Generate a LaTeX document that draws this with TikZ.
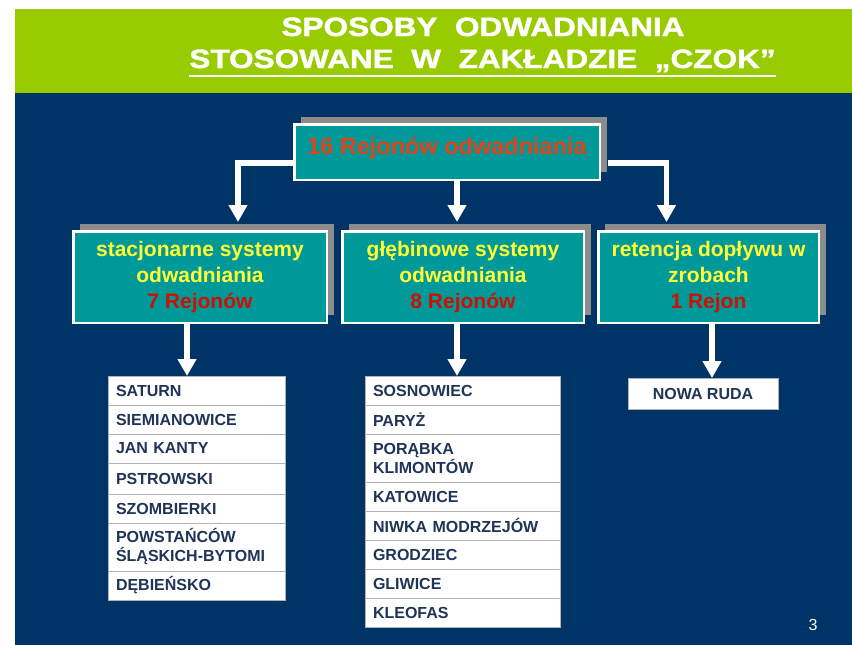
\documentclass[tikz,border=0pt]{standalone}
\usepackage{fontspec}
\setmainfont{Liberation Sans}
\newfontfamily\titlefont{Liberation Sans}[FakeStretch=1.19,FakeBold=1.5]
\usetikzlibrary{positioning,arrows.meta,shadows}

\definecolor{slideblue}{HTML}{003366}
\definecolor{titlegreen}{HTML}{99CC00}
\definecolor{boxteal}{HTML}{009999}
\definecolor{shadowgray}{HTML}{8C8C8C}
\definecolor{labelyellow}{HTML}{FFFF33}
\definecolor{countred}{HTML}{CC1100}
\definecolor{topred}{HTML}{E04418}
\definecolor{listnavy}{HTML}{1F3457}

\tikzset{
  titletext/.style={text=white, anchor=base, inner sep=0pt, font=\titlefont\fontsize{26.5}{30}\selectfont\bfseries},
  groupbox/.style={draw=white, line width=2.5pt, fill=boxteal, anchor=north west, inner sep=0pt,
    general shadow={fill=shadowgray, shadow xshift=7pt, shadow yshift=7.5pt},
    align=center, text=labelyellow, font=\fontsize{21}{26}\selectfont\bfseries},
  listrow/.style={draw=gray!60, line width=0.8pt, fill=white, text=listnavy, outer sep=0pt,
    inner xsep=8pt, inner ysep=0pt, align=left, font=\fontsize{16}{19}\selectfont\bfseries},
  conn/.style={draw=white, line width=5.5pt, -{Triangle[width=18pt,length=17pt]}},
}

\begin{document}
\begin{tikzpicture}[x=1pt,y=-1pt]
    \useasboundingbox (0,0) rectangle (852,645);

    % Slide background
    \fill[white] (0,0) rectangle (852,645);
    \fill[slideblue] (15,93) rectangle (852,645);
    \fill[titlegreen] (15,9) rectangle (852,93);

    % Title
    \node[titletext] (title1) at (483,36) {SPOSOBY\ \ ODWADNIANIA};
    \node[titletext] (title2) at (482.5,68) {STOSOWANE\ \ W\ \ ZAKŁADZIE\ \ „CZOK”};
    \draw[white, line width=2.5pt] ([yshift=-8pt]title2.base west) -- ([yshift=-8pt]title2.base east);

    % Top box
    \node[groupbox, minimum width=305.5pt, text height=29.75pt, text depth=25.75pt,
          text=topred, font=\fontsize{23.5}{28}\selectfont\bfseries]
        (top) at (293,123) {16 Rejonów odwadniania};

    % Second level
    \node[groupbox, minimum width=253.5pt, minimum height=91.5pt] (sys1) at (72,230)
        {stacjonarne systemy\\odwadniania\\{\color{countred}7 Rejonów}};
    \node[groupbox, minimum width=241.5pt, minimum height=91.5pt] (sys2) at (341,230)
        {głębinowe systemy\\odwadniania\\{\color{countred}8 Rejonów}};
    \node[groupbox, minimum width=220.5pt, minimum height=91.5pt] (sys3) at (597,230)
        {retencja dopływu w\\zrobach\\{\color{countred}1 Rejon}};

    % Arrows from the top box
    \coordinate (in1) at ([xshift=38pt,yshift=8pt]sys1.north);
    \coordinate (in2) at ([xshift=-6pt,yshift=8pt]sys2.north);
    \coordinate (in3) at ([xshift=-42pt,yshift=8pt]sys3.north);
    \draw[conn] ([yshift=-11pt]top.west) -| (in1);
    \draw[conn] (top.south -| in2) -- (in2);
    \draw[conn] ([xshift=7pt,yshift=-11pt]top.east) -| (in3);

    % List of stationary systems
    \node[listrow, anchor=north west, text width=161pt, minimum height=29pt] (l1a) at (108,376) {SATURN};
    \node[listrow, text width=161pt, minimum height=29pt, below=0pt of l1a] (l1b) {SIEMIANOWICE};
    \node[listrow, text width=161pt, minimum height=29pt, below=0pt of l1b] (l1c) {JAN KANTY};
    \node[listrow, text width=161pt, minimum height=31pt, below=0pt of l1c] (l1d) {PSTROWSKI};
    \node[listrow, text width=161pt, minimum height=29pt, below=0pt of l1d] (l1e) {SZOMBIERKI};
    \node[listrow, text width=161pt, minimum height=48pt, below=0pt of l1e] (l1f) {POWSTAŃCÓW\\\mbox{ŚLĄSKICH-BYTOMI}};
    \node[listrow, text width=161pt, minimum height=29pt, below=0pt of l1f] (l1g) {DĘBIEŃSKO};

    % List of deep systems
    \node[listrow, anchor=north west, text width=179pt, minimum height=29pt] (l2a) at (365,376) {SOSNOWIEC};
    \node[listrow, text width=179pt, minimum height=29pt, below=0pt of l2a] (l2b) {PARYŻ};
    \node[listrow, text width=179pt, minimum height=48pt, below=0pt of l2b] (l2c) {PORĄBKA\\KLIMONTÓW};
    \node[listrow, text width=179pt, minimum height=29pt, below=0pt of l2c] (l2d) {KATOWICE};
    \node[listrow, text width=179pt, minimum height=29pt, below=0pt of l2d] (l2e) {NIWKA MODRZEJÓW};
    \node[listrow, text width=179pt, minimum height=29pt, below=0pt of l2e] (l2f) {GRODZIEC};
    \node[listrow, text width=179pt, minimum height=29pt, below=0pt of l2f] (l2g) {GLIWICE};
    \node[listrow, text width=179pt, minimum height=29pt, below=0pt of l2g] (l2h) {KLEOFAS};

    % Retention
    \node[listrow, anchor=north west, align=center, minimum width=150pt, minimum height=31pt] (l3a) at (628,378) {NOWA RUDA};

    % Arrows to the lists
    \coordinate (out1) at ([xshift=-9.5pt]l1a.north);
    \coordinate (out2) at ([xshift=-5.5pt]l2a.north);
    \coordinate (out3) at ([xshift=9pt]l3a.north);
    \draw[conn] (sys1.south -| out1) -- (out1);
    \draw[conn] (sys2.south -| out2) -- (out2);
    \draw[conn] (sys3.south -| out3) -- (out3);

    % Page number
    \node[text=white, font=\fontsize{16}{19}\selectfont] (pagenum) at (813,625) {3};
\end{tikzpicture}
\end{document}
